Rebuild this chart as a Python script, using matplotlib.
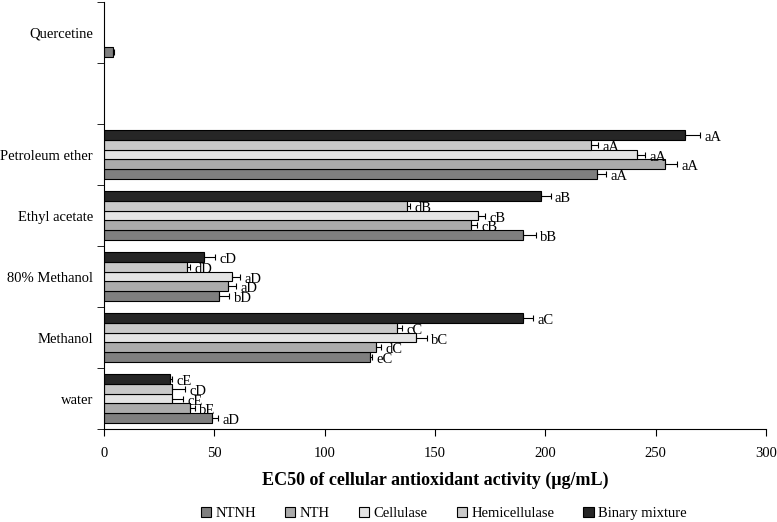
import numpy as np
import matplotlib
matplotlib.use("Agg")
import matplotlib.pyplot as plt

plt.rcParams['font.family'] = ['Liberation Serif', 'DejaVu Serif']

# categories from bottom to top ("" is an empty slot)
categories = ["water", "Methanol", "80% Methanol", "Ethyl acetate", "Petroleum ether", "", "Quercetine"]
series = ["NTNH", "NTH", "Cellulase", "Hemicellulase", "Binary mixture"]
colors = ["#7f7f7f", "#ababab", "#e4e4e4", "#c9c9c9", "#262626"]

nan = np.nan
ntnh = [48.8, 120.5, 52.2, 189.7, 223.2, nan, 4.0]
nth = [39.0, 123.2, 56.3, 166.1, 254.2, nan, nan]
cellulase = [30.6, 141.2, 57.8, 169.3, 241.3, nan, nan]
hemicellulase = [30.9, 132.9, 37.4, 137.1, 220.5, nan, nan]
binary = [29.9, 189.8, 45.4, 197.8, 263.3, nan, nan]

ntnh_err = [3.0, 1.0, 4.5, 6.0, 4.2, nan, 0.6]
nth_err = [2.0, 2.3, 3.3, 3.0, 5.5, nan, nan]
cellulase_err = [5.0, 5.0, 3.8, 3.3, 3.7, nan, nan]
hemicellulase_err = [5.8, 2.0, 1.5, 1.5, 3.5, nan, nan]
binary_err = [0.8, 4.5, 5.0, 4.5, 6.8, nan, nan]

ntnh_lbl = ["aD", "eC", "bD", "bB", "aA", "", ""]
nth_lbl = ["bE", "dC", "aD", "cB", "aA", "", ""]
cellulase_lbl = ["cE", "bC", "aD", "cB", "aA", "", ""]
hemicellulase_lbl = ["cD", "cC", "dD", "dB", "aA", "", ""]
binary_lbl = ["cE", "aC", "cD", "aB", "aA", "", ""]

values = [ntnh, nth, cellulase, hemicellulase, binary]
errors = [ntnh_err, nth_err, cellulase_err, hemicellulase_err, binary_err]
labels = [ntnh_lbl, nth_lbl, cellulase_lbl, hemicellulase_lbl, binary_lbl]

fig = plt.figure(figsize=(7.77, 5.22), dpi=100)
ax = fig.add_axes([0.134, 0.178, 0.852, 0.818])

y = np.arange(len(categories))
h = 0.16
for i, name in enumerate(series):
    pos = y - 0.4 + h * (i + 0.5)
    ax.barh(pos, values[i], height=h, color=colors[i], edgecolor="black",
            linewidth=0.8, label=name)
    ax.errorbar(values[i], pos, xerr=[np.zeros(len(y)), errors[i]], fmt="none",
                ecolor="black", elinewidth=0.8, capsize=2.5, capthick=0.8)
    for j in range(len(y)):
        if labels[i][j]:
            ax.text(values[i][j] + errors[i][j] + 2, pos[j] - 0.04, labels[i][j],
                    fontsize=10.5, va="center", ha="left")

ax.set_xlim(0, 300)
ax.set_ylim(-0.5, len(categories) - 0.5)
ax.set_xticks(np.arange(0, 301, 50))
ax.set_yticks(y)
ax.set_yticklabels(categories, fontsize=10.5)
ax.set_yticks(np.arange(-0.5, len(categories), 1), minor=True)
ax.tick_params(axis="y", which="major", length=0, pad=8)
ax.tick_params(axis="y", which="minor", length=5, direction="out")
ax.tick_params(axis="x", length=5, direction="out", labelsize=10.5, pad=8)
for s in ["top", "right"]:
    ax.spines[s].set_visible(False)
ax.spines["left"].set_linewidth(0.8)
ax.spines["bottom"].set_linewidth(0.8)

ax.set_xlabel("EC50 of cellular antioxidant activity (μg/mL)", fontsize=13,
              fontweight="bold", labelpad=8)

fig.legend(loc="center", bbox_to_anchor=(0.571, 0.017), ncol=5, frameon=False,
           fontsize=10.5, handlelength=0.7, handleheight=0.7, handletextpad=0.3,
           columnspacing=2.0)

fig.savefig("out.png", dpi=100)
